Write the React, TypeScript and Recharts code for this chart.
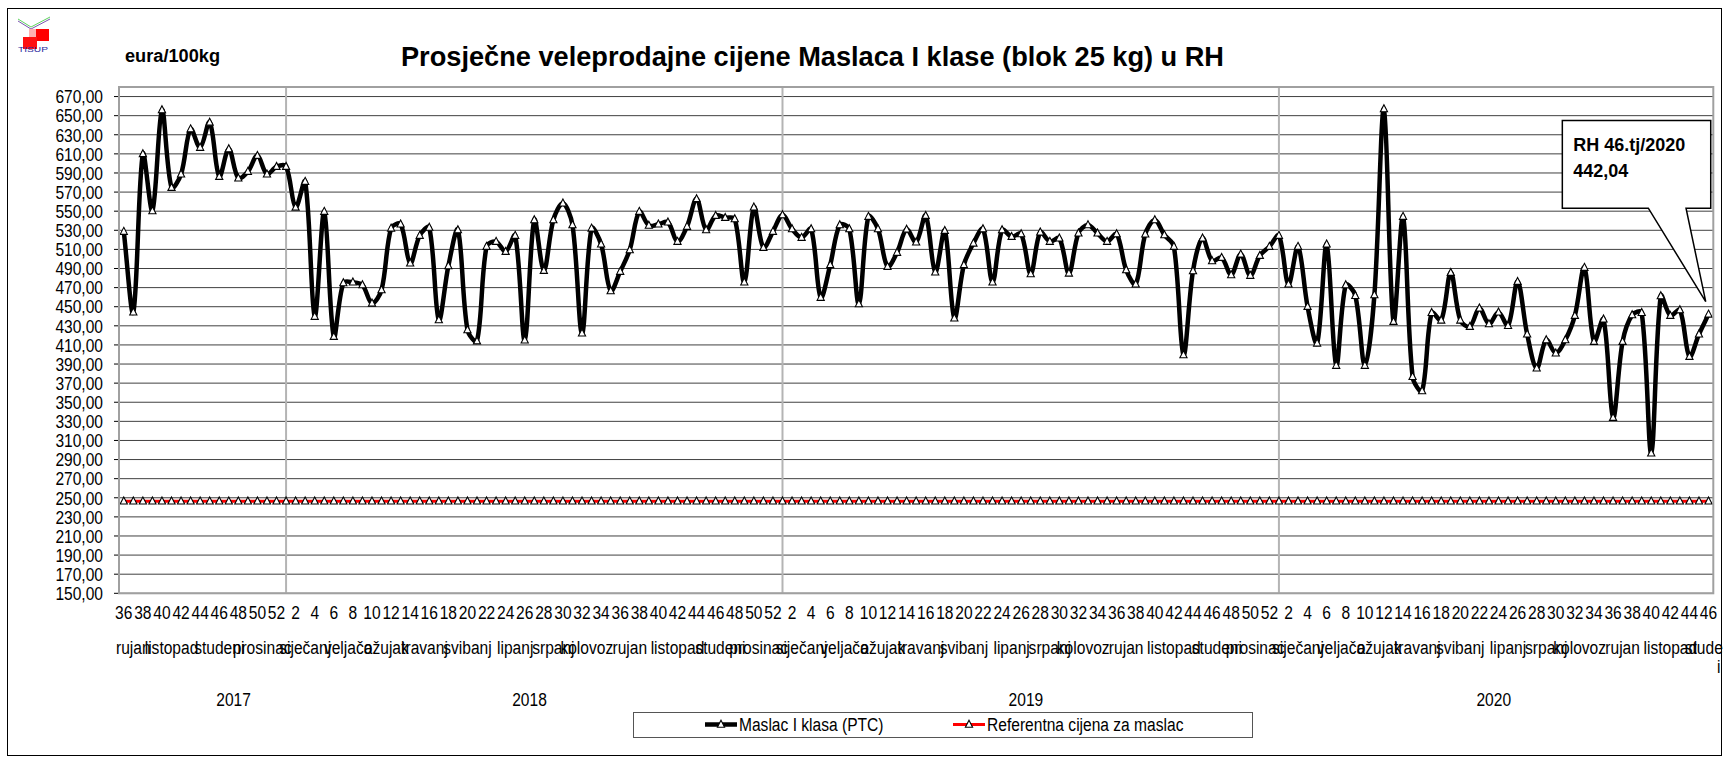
import React from 'react';
import { LineChart, Line, XAxis, YAxis, CartesianGrid, ReferenceLine, ReferenceDot } from 'recharts';

// ---------- data ----------
const years = [2017, 2018, 2019, 2020];
const firstWeekOfYear = [36, 1, 1, 1];
const lastWeekOfYear = [52, 52, 52, 46];

const months2017: [string, number][] = [['rujan', 3], ['listopad', 5], ['studeni', 5], ['prosinac', 4]];
const months2018: [string, number][] = [['siječanj', 5], ['veljača', 4], ['ožujak', 4], ['travanj', 4], ['svibanj', 5], ['lipanj', 5], ['srpanj', 3], ['kolovoz', 4], ['rujan', 5], ['listopad', 5], ['studeni', 4], ['prosinac', 4]];
const months2019: [string, number][] = [['siječanj', 5], ['veljača', 4], ['ožujak', 4], ['travanj', 4], ['svibanj', 5], ['lipanj', 5], ['srpanj', 3], ['kolovoz', 4], ['rujan', 5], ['listopad', 5], ['studeni', 4], ['prosinac', 4]];
const months2020: [string, number][] = [['siječanj', 5], ['veljača', 4], ['ožujak', 4], ['travanj', 4], ['svibanj', 5], ['lipanj', 5], ['srpanj', 3], ['kolovoz', 4], ['rujan', 5], ['listopad', 5], ['studeni', 2]];
const monthsByYear = [months2017, months2018, months2019, months2020];

// Maslac I klasa (PTC), eura/100kg, weekly
const maslac = [
  528.7, 444.2, 610.0, 550.3, 656.0, 574.7, 588.7, 636.0, 616.6, 643.0,
  586.2, 615.2, 584.5, 591.5, 608.2, 588.7, 596.7, 596.7, 554.0, 581.0,
  439.7, 549.6, 418.7, 474.9, 475.6, 472.8, 453.6, 467.6, 532.1, 536.3,
  495.5, 524.5, 533.0, 436.2, 492.7, 530.4, 425.7, 414.0, 513.0, 518.2,
  507.7, 524.5, 415.0, 540.9, 487.8, 540.9, 558.3, 535.6, 422.2, 532.1,
  515.4, 466.5, 486.8, 509.5, 549.6, 535.0, 536.3, 538.4, 518.2, 533.9,
  562.9, 530.4, 545.4, 543.3, 541.9, 475.6, 554.1, 511.9, 528.7, 546.1,
  531.4, 522.4, 531.4, 459.6, 493.8, 535.6, 531.4, 452.9, 544.4, 531.4,
  492.0, 506.7, 531.0, 517.5, 545.4, 486.1, 529.7, 437.9, 493.8, 516.4,
  531.4, 475.6, 530.4, 523.4, 526.2, 484.3, 528.0, 518.2, 521.7, 485.0,
  526.9, 535.6, 526.9, 518.2, 526.2, 488.5, 473.5, 525.9, 540.9, 525.2,
  513.0, 399.5, 487.5, 521.7, 497.9, 501.4, 483.3, 504.9, 482.6, 503.5,
  513.0, 524.5, 473.5, 513.0, 450.1, 411.7, 515.4, 388.4, 472.8, 461.6,
  388.4, 462.3, 657.1, 434.4, 544.4, 376.8, 361.8, 443.8, 435.8, 485.7,
  435.8, 429.2, 448.4, 432.0, 444.2, 430.2, 476.3, 421.3, 385.6, 415.2,
  401.3, 415.2, 440.7, 491.0, 413.5, 436.9, 333.9, 413.5, 441.4, 443.8,
  296.6, 461.3, 440.7, 446.6, 397.8, 421.2, 442.04,
];
const REFERENTNA = 246.39;

const yTicks = [150, 170, 190, 210, 230, 250, 270, 290, 310, 330, 350, 370, 390, 410, 430, 450, 470, 490, 510, 530, 550, 570, 590, 610, 630, 650, 670];

const TITLE = 'Prosječne veleprodajne cijene Maslaca I klase (blok 25 kg) u RH';
const UNIT = 'eura/100kg';
const SERIES_NAMES = ['Maslac I klasa (PTC)', 'Referentna cijena za maslac'];

// ---------- categories ----------
type Cat = { key: string; year: number; week: number; idx: number; monthName?: string; monthSpan?: number; yearStart?: boolean; yearSpan?: number; lastMonth?: boolean };
const cats: Cat[] = [];
years.forEach((y, yi) => {
  const yearStartIdx = cats.length;
  const span = lastWeekOfYear[yi] - firstWeekOfYear[yi] + 1;
  let w = firstWeekOfYear[yi];
  const months = monthsByYear[yi];
  months.forEach(([name, cnt], mi) => {
    for (let k = 0; k < cnt; k++) {
      const c: Cat = { key: `${y}-${w}`, year: y, week: w, idx: cats.length };
      if (k === 0) {
        c.monthName = name;
        c.monthSpan = cnt;
        c.lastMonth = yi === years.length - 1 && mi === months.length - 1;
      }
      if (cats.length === yearStartIdx) {
        c.yearStart = true;
        c.yearSpan = span;
      }
      cats.push(c);
      w++;
    }
  });
});
const catByKey: Record<string, Cat> = {};
cats.forEach((c) => (catByKey[c.key] = c));

const data = cats.map((c, i) => ({ key: c.key, maslac: maslac[i], ref: REFERENTNA }));

// ---------- layout ----------
const CHART_W = 1725;
const CHART_H = 759;
const PLOT_L = 119;
const PLOT_R = 1713.3;
const PLOT_T = 87;
const PLOT_B = 593.3;
const XAXIS_H = 140;
const N = data.length;
const BAND = (PLOT_R - PLOT_L) / N;
const YEAR_LABEL_SHIFT: Record<number, number> = { 2017: 3.5 };

const SANS = "'Liberation Sans', Arial, sans-serif";
const NARROW_SCALE = 0.82;

// narrow (Arial Narrow-like) text: Liberation Sans squeezed horizontally
const NText = ({ x, y, anchor = 'start', size = 19, bold = false, dy, children }: any) => (
  <text
    transform={`translate(${x},${y}) scale(${NARROW_SCALE},1)`}
    x={0}
    y={0}
    dy={dy}
    textAnchor={anchor}
    fontFamily={SANS}
    fontSize={size}
    fontWeight={bold ? 'bold' : 'normal'}
    fill="#000"
  >
    {children}
  </text>
);

// Excel-like smoothed line (chord-length weighted Catmull-Rom)
const excelSmooth = (context: any) => {
  let pts: number[][] = [];
  const dist = (a: number[], b: number[]) => Math.hypot(b[0] - a[0], b[1] - a[1]);
  return {
    areaStart() {},
    areaEnd() {},
    lineStart() {
      pts = [];
    },
    point(x: number, y: number) {
      pts.push([+x, +y]);
    },
    lineEnd() {
      const n = pts.length;
      if (!n) return;
      context.moveTo(pts[0][0], pts[0][1]);
      for (let i = 0; i < n - 1; i++) {
        const p0 = pts[i === 0 ? 0 : i - 1];
        const p1 = pts[i];
        const p2 = pts[i + 1];
        const p3 = pts[i + 2 < n ? i + 2 : n - 1];
        const d01 = dist(p0, p1);
        const d12 = dist(p1, p2);
        const d23 = dist(p2, p3);
        const s1 = d01 + d12 > 0 ? d12 / (3 * (d01 + d12)) : 0;
        const s2 = d12 + d23 > 0 ? d12 / (3 * (d12 + d23)) : 0;
        context.bezierCurveTo(
          p1[0] + (p2[0] - p0[0]) * s1,
          p1[1] + (p2[1] - p0[1]) * s1,
          p2[0] - (p3[0] - p1[0]) * s2,
          p2[1] - (p3[1] - p1[1]) * s2,
          p2[0],
          p2[1]
        );
      }
    },
  };
};

const triPath = (cx: number, cy: number, s = 1) =>
  `M${cx},${cy - 4.2 * s}L${cx + 3.6 * s},${cy + 2.8 * s}L${cx - 3.6 * s},${cy + 2.8 * s}Z`;

const TriDot = (p: any) => {
  const { cx, cy, index } = p;
  if (cx == null || cy == null) return <g key={`d${index}`} />;
  return <path key={`d${index}`} d={triPath(cx, cy)} fill="#fff" stroke="#000" strokeWidth={1.1} />;
};

const AxisTick = (p: any) => {
  const { x, y, payload } = p;
  const c = catByKey[payload.value];
  if (!c) return null;
  const monthX = c.monthName ? x + ((c.monthSpan! - 1) / 2) * BAND : 0;
  const yearX = c.yearStart ? x + ((c.yearSpan! - 1) / 2 + (YEAR_LABEL_SHIFT[c.year] || 0)) * BAND : 0;
  return (
    <g>
      {c.week % 2 === 0 && (
        <NText x={x} y={y + 26} anchor="middle">
          {c.week}
        </NText>
      )}
      {c.monthName && !c.lastMonth && (
        <NText x={monthX} y={y + 61} anchor="middle">
          {c.monthName}
        </NText>
      )}
      {c.monthName && c.lastMonth && (
        <g>
          <NText x={monthX} y={y + 61} anchor="middle">
            {c.monthName.slice(0, 5)}
          </NText>
          <NText x={monthX + 15} y={y + 80} anchor="middle">
            {c.monthName.slice(6)}
          </NText>
        </g>
      )}
      {c.yearStart && (
        <NText x={yearX} y={y + 113} anchor="middle">
          {c.year}
        </NText>
      )}
    </g>
  );
};

const fmt = (v: number) => v.toFixed(2).replace('.', ',');

const YTick = (p: any) => {
  const { x, y, payload } = p;
  return (
    <NText x={x} y={y} anchor="end" dy="0.355em">
      {fmt(payload.value)}
    </NText>
  );
};

const Callout = (p: any) => {
  const { cx, cy } = p;
  if (cx == null || cy == null) return <g />;
  const L = cx - 146.2;
  const T = cy - 193.7;
  const R = cx + 2.2;
  const B = cy - 106.1;
  const d = `M${L},${T}H${R}V${B}H${cx - 22.5}L${cx - 2.8},${cy - 12.7}L${cx - 60.2},${B}H${L}Z`;
  const last = cats[cats.length - 1];
  return (
    <g>
      <path d={d} fill="#fff" stroke="#000" strokeWidth={1.5} />
      <text x={cx - 135.2} y={cy - 163.7} fontFamily={SANS} fontWeight="bold" fontSize={19} textLength={112} lengthAdjust="spacingAndGlyphs" fill="#000">
        {`RH ${last.week}.tj/${last.year}`}
      </text>
      <text x={cx - 135.2} y={cy - 137.7} fontFamily={SANS} fontWeight="bold" fontSize={19} textLength={55} lengthAdjust="spacingAndGlyphs" fill="#000">
        {fmt(maslac[maslac.length - 1])}
      </text>
    </g>
  );
};

const Overlay = () => (
  <svg width={CHART_W} height={CHART_H} style={{ position: 'absolute', left: 0, top: 0, pointerEvents: 'none' }}>
    {/* outer frame */}
    <rect x={7.5} y={8.5} width={1714} height={747} fill="none" stroke="#000" strokeWidth={1} />
    {/* plot frame */}
    <rect x={PLOT_L} y={PLOT_T} width={PLOT_R - PLOT_L} height={PLOT_B - PLOT_T} fill="none" stroke="#a0a0a0" strokeWidth={2} />
    {/* logo */}
    <g>
      <polyline points="18,19 31,27 50,17" fill="none" stroke="#5fd35f" strokeWidth={1} />
      <polyline points="18,21 31,29 50,19" fill="none" stroke="#7a55b0" strokeWidth={1} />
      <rect x={29} y={29} width={20} height={12} fill="#ffb0b0" />
      <rect x={36} y={29} width={13} height={12} fill="#ff0000" />
      <rect x={23} y={37} width={14} height={12} fill="#ff1010" />
      <text x={18} y={52} fontSize={6.5} fontFamily={SANS} fill="#2a2aa0" textLength={30} lengthAdjust="spacingAndGlyphs">TISUP</text>
    </g>
    <text x={125} y={61.7} fontFamily={SANS} fontWeight="bold" fontSize={18} textLength={95} lengthAdjust="spacingAndGlyphs" fill="#000">
      {UNIT}
    </text>
    <text x={812.5} y={66} textAnchor="middle" fontFamily={SANS} fontWeight="bold" fontSize={28} textLength={823} lengthAdjust="spacingAndGlyphs" fill="#000">
      {TITLE}
    </text>
    {/* legend */}
    <g>
      <rect x={633.5} y={712.5} width={619} height={25} fill="#fff" stroke="#555" strokeWidth={1} />
      <line x1={705} x2={737} y1={724.5} y2={724.5} stroke="#000" strokeWidth={4.5} />
      <path d={triPath(721, 724.5)} fill="#fff" stroke="#000" strokeWidth={1.1} />
      <NText x={739} y={731}>{SERIES_NAMES[0]}</NText>
      <line x1={953} x2={985} y1={724.5} y2={724.5} stroke="#ff0000" strokeWidth={3} />
      <path d={triPath(969, 724.5)} fill="#fff" stroke="#000" strokeWidth={1.1} />
      <NText x={987} y={731}>{SERIES_NAMES[1]}</NText>
    </g>
  </svg>
);

export default function App() {
  const yearSeparators = cats.filter((c) => c.yearStart && c.idx > 0);
  const lastCat = cats[cats.length - 1];
  return (
    <div style={{ position: 'absolute', left: 0, top: 0, width: CHART_W, height: CHART_H, background: '#fff' }}>
      <LineChart
        width={CHART_W}
        height={CHART_H}
        data={data}
        margin={{ top: PLOT_T, right: CHART_W - PLOT_R, bottom: CHART_H - PLOT_B - XAXIS_H, left: 0 }}
      >
        <CartesianGrid yAxisId="l" horizontal vertical={false} stroke="#404040" strokeWidth={1} />
        <XAxis
          dataKey="key"
          type="category"
          interval={0}
          height={XAXIS_H}
          padding={{ left: BAND / 2, right: BAND / 2 }}
          tickLine={false}
          axisLine={false}
          tickSize={0}
          tickMargin={0}
          tick={(p: any) => <AxisTick {...p} />}
        />
        <YAxis
          yAxisId="l"
          type="number"
          domain={[150, 680]}
          ticks={yTicks}
          interval={0}
          width={PLOT_L}
          tickSize={5}
          tickMargin={11}
          tickLine={{ stroke: '#000' }}
          axisLine={false}
          tick={(p: any) => <YTick {...p} />}
          allowDataOverflow
        />
        {yearSeparators.map((c) => (
          <ReferenceLine key={c.key} yAxisId="l" x={c.key} stroke="#b4b4b4" strokeWidth={2} />
        ))}
        <Line
          yAxisId="l"
          dataKey="ref"
          name={SERIES_NAMES[1]}
          stroke="#ff0000"
          strokeWidth={3}
          type="linear"
          dot={TriDot}
          activeDot={false}
          isAnimationActive={false}
        />
        <Line
          yAxisId="l"
          dataKey="maslac"
          name={SERIES_NAMES[0]}
          stroke="#000"
          strokeWidth={4.5}
          type={excelSmooth as any}
          dot={TriDot}
          activeDot={false}
          isAnimationActive={false}
        />
        <ReferenceDot yAxisId="l" x={lastCat.key} y={maslac[maslac.length - 1]} r={0} shape={Callout} ifOverflow="visible" />
      </LineChart>
      <Overlay />
    </div>
  );
}
